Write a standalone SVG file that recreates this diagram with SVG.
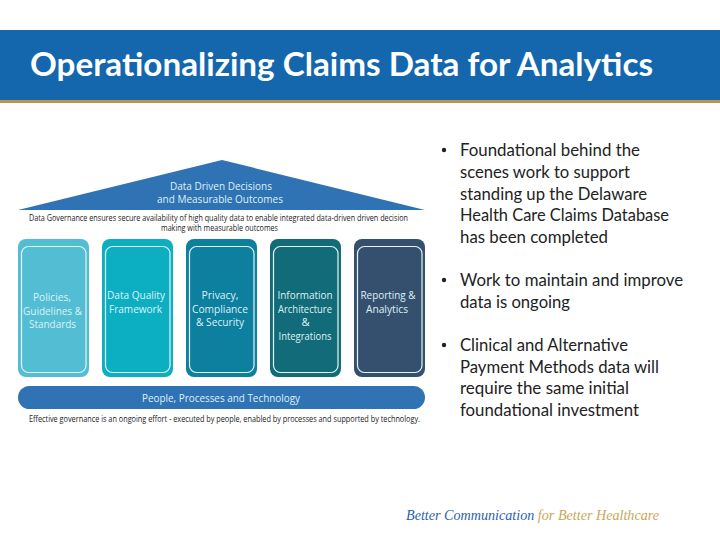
<svg xmlns="http://www.w3.org/2000/svg" width="720" height="540" viewBox="0 0 720 540">
<style>
.d{font-family:"Open Sans","Noto Sans",sans-serif;fill:#dff1f6;font-size:11.3px;text-anchor:middle}
.k{font-family:"Open Sans","Noto Sans",sans-serif;fill:#222;font-size:8.2px}
.b{font-family:Lato,"Liberation Sans",sans-serif;fill:#222;font-size:17px}
.in{fill:none;stroke:#e4f4f6;stroke-width:1.2}
.l{font-family:"Liberation Serif",serif;font-style:italic;font-size:15px}
</style>
<rect width="720" height="540" fill="#fff"/>
<g id="header">
<rect x="0" y="30" width="720" height="70" fill="#1467ad"/>
<rect x="0" y="100" width="720" height="3" fill="#b9964a"/>
<text x="30" y="76" font-family="Lato,'Liberation Sans',sans-serif" font-weight="700" font-size="33" fill="#fff" textLength="623" lengthAdjust="spacingAndGlyphs">Operationalizing Claims Data for Analytics</text>
</g>
<g id="roof">
<polygon points="222,160 18,210 425,210" fill="#2f73b5"/>
<text class="d" x="221" y="190" textLength="102" lengthAdjust="spacingAndGlyphs">Data Driven Decisions</text>
<text class="d" x="220" y="203" textLength="126" lengthAdjust="spacingAndGlyphs">and Measurable Outcomes</text>
</g>
<g id="governance">
<text class="k" x="29" y="221" textLength="379" lengthAdjust="spacingAndGlyphs">Data Governance ensures secure availability of high quality data to enable integrated data-driven driven decision</text>
<text class="k" x="161" y="230.500" textLength="117" lengthAdjust="spacingAndGlyphs">making with measurable outcomes</text>
</g>
<g id="pillar-policies">
<rect x="18" y="239" width="71" height="138" rx="8" fill="#52bdd3"/>
<rect class="in" x="21.500" y="246.500" width="64.500" height="126" rx="7"/>
<text class="d" x="52" y="301" textLength="38" lengthAdjust="spacingAndGlyphs">Policies,</text>
<text class="d" x="52.500" y="314.500" textLength="59" lengthAdjust="spacingAndGlyphs">Guidelines &amp;</text>
<text class="d" x="52.500" y="328" textLength="47" lengthAdjust="spacingAndGlyphs">Standards</text>
</g>
<g id="pillar-quality">
<rect x="102" y="239" width="71" height="138" rx="8" fill="#0cafc2"/>
<rect class="in" x="105.500" y="246.500" width="64.500" height="126" rx="7"/>
<text class="d" x="136" y="299" textLength="58" lengthAdjust="spacingAndGlyphs">Data Quality</text>
<text class="d" x="135.500" y="312.500" textLength="53" lengthAdjust="spacingAndGlyphs">Framework</text>
</g>
<g id="pillar-privacy">
<rect x="186" y="239" width="71" height="138" rx="8" fill="#0d7f9f"/>
<rect class="in" x="189.500" y="246.500" width="64.500" height="126" rx="7"/>
<text class="d" x="220" y="299" textLength="37" lengthAdjust="spacingAndGlyphs">Privacy,</text>
<text class="d" x="220" y="312.500" textLength="56" lengthAdjust="spacingAndGlyphs">Compliance</text>
<text class="d" x="220" y="326" textLength="48" lengthAdjust="spacingAndGlyphs">&amp; Security</text>
</g>
<g id="pillar-information">
<rect x="270" y="239" width="71" height="138" rx="8" fill="#126b78"/>
<rect class="in" x="273.500" y="246.500" width="64.500" height="126" rx="7"/>
<text class="d" x="305" y="299" textLength="55" lengthAdjust="spacingAndGlyphs">Information</text>
<text class="d" x="305" y="312.500" textLength="54" lengthAdjust="spacingAndGlyphs">Architecture</text>
<text class="d" x="305.500" y="326">&amp;</text>
<text class="d" x="305" y="339.500" textLength="53" lengthAdjust="spacingAndGlyphs">Integrations</text>
</g>
<g id="pillar-reporting">
<rect x="354" y="239" width="71" height="138" rx="8" fill="#35506f"/>
<rect class="in" x="357.500" y="246.500" width="64.500" height="126" rx="7"/>
<text class="d" x="388" y="299" textLength="55" lengthAdjust="spacingAndGlyphs">Reporting &amp;</text>
<text class="d" x="387" y="312.500" textLength="42" lengthAdjust="spacingAndGlyphs">Analytics</text>
</g>
<g id="foundation">
<rect x="18" y="386" width="407" height="23" rx="11.500" fill="#2f73b5"/>
<text class="d" x="221" y="401.500" textLength="158" lengthAdjust="spacingAndGlyphs">People, Processes and Technology</text>
<text class="k" x="29" y="421.500" textLength="391" lengthAdjust="spacingAndGlyphs">Effective governance is an ongoing effort - executed by people, enabled by processes and supported by technology.</text>
</g>
<g id="bullets">
<circle cx="444" cy="150" r="2.200" fill="#222"/>
<text class="b" x="460" y="156" textLength="180" lengthAdjust="spacingAndGlyphs">Foundational behind the</text>
<text class="b" x="460" y="178" textLength="170" lengthAdjust="spacingAndGlyphs">scenes work to support</text>
<text class="b" x="460" y="200" textLength="187" lengthAdjust="spacingAndGlyphs">standing up the Delaware</text>
<text class="b" x="460" y="221" textLength="209" lengthAdjust="spacingAndGlyphs">Health Care Claims Database</text>
<text class="b" x="460" y="243" textLength="148" lengthAdjust="spacingAndGlyphs">has been completed</text>
<circle cx="444" cy="280" r="2.200" fill="#222"/>
<text class="b" x="460" y="286" textLength="223" lengthAdjust="spacingAndGlyphs">Work to maintain and improve</text>
<text class="b" x="460" y="308" textLength="110" lengthAdjust="spacingAndGlyphs">data is ongoing</text>
<circle cx="444" cy="345" r="2.200" fill="#222"/>
<text class="b" x="460" y="351" textLength="168" lengthAdjust="spacingAndGlyphs">Clinical and Alternative</text>
<text class="b" x="460" y="373" textLength="199" lengthAdjust="spacingAndGlyphs">Payment Methods data will</text>
<text class="b" x="460" y="394" textLength="169" lengthAdjust="spacingAndGlyphs">require the same initial</text>
<text class="b" x="460" y="416" textLength="179" lengthAdjust="spacingAndGlyphs">foundational investment</text>
</g>
<g id="tagline">
<text class="l" x="406" y="520" textLength="253" lengthAdjust="spacingAndGlyphs"><tspan fill="#2a62ad">Better Communication </tspan><tspan fill="#c9a65a">for Better Healthcare</tspan></text>
</g>
</svg>
